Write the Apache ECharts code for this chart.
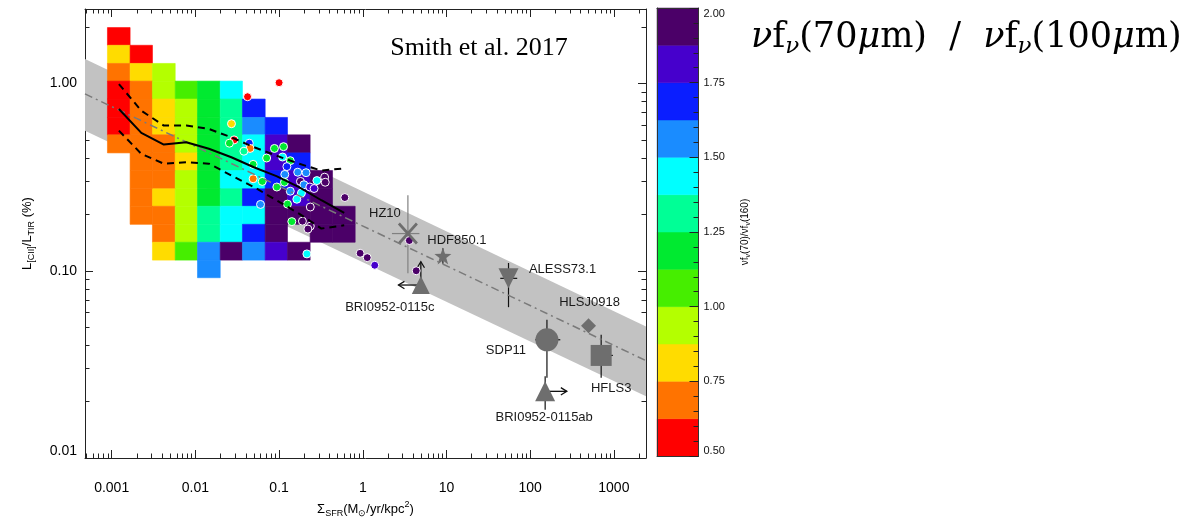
<!DOCTYPE html>
<html>
<head>
<meta charset="utf-8">
<script src="https://cdn.jsdelivr.net/npm/echarts@6/dist/echarts.min.js"></script>
<style>
  html, body { margin: 0; padding: 0; background: #fff; }
  #main { width: 1201px; height: 520px; }
</style>
</head>
<body>
<div id="main"></div>
<script>
// axis ranges: Sigma_SFR (Msun/yr/kpc2) and L[CII]/L_TIR (%)
const sfrRange = [0.00048, 2420]
const ratioRange = [0.01, 2.5]
const sfrTicks = [0.001, 0.01, 0.1, 1, 10, 100, 1000]
const sfrTickLabels = ['0.001', '0.01', '0.1', '1', '10', '100', '1000']
const ratioTicks = [0.01, 0.1, 1]
const ratioTickLabels = ['0.01', '0.10', '1.00']

// colour bar: nu f_nu(70) / nu f_nu(160)
const colorLevels = [0.5, 0.625, 0.75, 0.875, 1.0, 1.125, 1.25, 1.375, 1.5, 1.625, 1.75, 1.875, 2.0]
const levelColors = ['#ff0000', '#ff7300', '#ffdc00', '#b4ff00', '#46ee00', '#00ea30',
  '#00ff96', '#00ffff', '#1a8cff', '#0a1eff', '#4600cc', '#4b0068']

// 2d histogram of resolved regions (rows top -> bottom)
const sfrEdges = [0.00089, 0.00166, 0.00307, 0.00574, 0.0106, 0.0198, 0.0365, 0.0682, 0.126, 0.235, 0.435, 0.811]
const ratioEdges = [1.99, 1.60, 1.28, 1.03, 0.826, 0.659, 0.532, 0.426, 0.343, 0.274, 0.221, 0.177, 0.142, 0.114, 0.0918]
const N = null
const binColour = [
  [0.56, N, N, N, N, N, N, N, N, N, N],
  [0.81, 0.56, N, N, N, N, N, N, N, N, N],
  [0.69, 0.81, 0.94, N, N, N, N, N, N, N, N],
  [0.56, 0.69, 0.94, 1.06, 1.19, 1.44, N, N, N, N, N],
  [0.56, 0.69, 0.81, 0.94, 1.19, 1.31, 1.69, N, N, N, N],
  [0.56, 0.69, 0.81, 0.94, 1.19, 1.31, 1.56, 1.69, N, N, N],
  [0.69, 0.69, 0.69, 0.94, 1.19, 1.31, 1.44, 1.81, 1.94, N, N],
  [N, 0.69, 0.69, 0.81, 1.19, 1.31, 1.44, 1.81, 1.69, N, N],
  [N, 0.69, 0.69, 0.94, 1.19, 1.44, 1.44, 1.69, 1.81, 1.94, N],
  [N, 0.69, 0.81, 0.94, 1.19, 1.31, 1.69, 1.94, 1.81, 1.94, N],
  [N, 0.69, 0.69, 0.94, 1.31, 1.44, 1.44, 1.94, 1.94, 1.94, 1.94],
  [N, N, 0.69, 0.94, 1.31, 1.44, 1.69, 1.94, N, 1.94, 1.94],
  [N, N, 0.81, 1.06, 1.56, 1.94, 1.56, 1.81, 1.94, N, N],
  [N, N, N, N, 1.56, N, N, N, N, N, N]
]

// running median and 16/84 percentiles
const runSFR = [0.00122, 0.00226, 0.0042, 0.0078, 0.0145, 0.0269, 0.050, 0.093, 0.173, 0.32, 0.60]
const runMedian = [0.731, 0.545, 0.472, 0.486, 0.448, 0.404, 0.357, 0.320, 0.280, 0.238, 0.204]
const runUpper = [0.993, 0.716, 0.596, 0.596, 0.572, 0.516, 0.457, 0.412, 0.373, 0.343, 0.352]
const runLower = [0.560, 0.421, 0.373, 0.380, 0.373, 0.323, 0.280, 0.238, 0.202, 0.168, 0.175]

// Smith et al. 2017 relation and its scatter
const relSFR = [0.00048, 2420]
const relFit = [0.88, 0.0331]
const relHigh = [1.35, 0.0504]
const relLow = [0.56, 0.0214]

// individual regions
const galSFR = [0.10, 0.042, 0.027, 0.029, 0.0255, 0.044, 0.045, 0.038, 0.049, 0.071, 0.088, 0.113, 0.11, 0.136,
  0.124, 0.049, 0.063, 0.117, 0.116, 0.167, 0.21, 0.18, 0.198, 0.233, 0.283, 0.35, 0.356, 0.262, 0.094, 0.136,
  0.185, 0.163, 0.126, 0.060, 0.236, 0.61, 0.142, 0.19, 0.236, 0.221, 0.215, 0.93, 1.13, 1.39, 3.6, 4.35]
const galRatio = [1.01, 0.85, 0.61, 0.50, 0.48, 0.48, 0.45, 0.435, 0.37, 0.40, 0.45, 0.46, 0.405, 0.387,
  0.36, 0.31, 0.30, 0.327, 0.297, 0.336, 0.334, 0.30, 0.288, 0.28, 0.303, 0.316, 0.297, 0.275, 0.28, 0.266,
  0.26, 0.241, 0.227, 0.226, 0.219, 0.246, 0.183, 0.184, 0.173, 0.167, 0.123, 0.124, 0.1175, 0.107, 0.145, 0.100]
const galColour = [0.56, 0.56, 0.81, 0.56, 1.19, 1.69, 0.69, 1.31, 1.19, 1.19, 1.19, 1.19, 1.44, 1.19,
  1.69, 0.69, 1.19, 1.56, 1.19, 1.56, 1.56, 1.94, 1.56, 1.81, 1.44, 1.94, 1.94, 1.81, 1.19, 1.56,
  1.44, 1.44, 1.19, 1.56, 1.94, 1.94, 1.19, 1.94, 1.94, 1.94, 1.44, 1.94, 1.94, 1.81, 1.94, 1.94]

// high redshift sources
const hzNames = ['HZ10', 'HDF850.1', 'BRI0952-0115c', 'ALESS73.1', 'HLSJ0918', 'SDP11', 'HFLS3', 'BRI0952-0115ab']
const hzSFR = [3.46, 9.06, 4.94, 55.1, 498, 158.6, 705, 151]
const hzRatio = [0.158, 0.120, 0.0839, 0.0911, 0.0508, 0.0428, 0.0353, 0.0227]
const hzSFRLo = [2.23, N, N, 43.9, 446, 115, 546, N]
const hzSFRHi = [4.75, N, N, 70, 556, 229, 973, N]
const hzRatioLo = [0.0969, 0.109, N, 0.0639, 0.0483, 0.0268, 0.0268, 0.0181]
const hzRatioHi = [0.253, 0.132, N, 0.110, 0.0534, 0.0547, 0.0455, 0.0273]
// limits (arrows) : source index and arrow tip
const limSource = [2, 2, 7]
const limSFR = [4.94, 2.67, 274]
const limRatio = [0.1117, 0.0839, 0.0227]

const lg = Math.log10
const xMin = lg(sfrRange[0])
const xMax = lg(sfrRange[1])
const yMin = lg(ratioRange[0])
const yMax = lg(ratioRange[1])
const sans = 'Liberation Sans'

function colourOf (v) {
  for (let i = 0; i < levelColors.length; i++) {
    if (v < colorLevels[i + 1]) return levelColors[i]
  }
  return levelColors[levelColors.length - 1]
}

function minorValues (lo, hi) {
  const out = []
  for (let d = Math.floor(lo) - 1; d <= Math.ceil(hi); d++) {
    for (let k = 2; k <= 9; k++) {
      const v = d + lg(k)
      if (v > lo && v < hi) out.push(v)
    }
  }
  return out
}

function labelFor (ticks, labels, v) {
  const i = ticks.findIndex(t => Math.abs(lg(t) - v) < 1e-6)
  return i < 0 ? '' : labels[i]
}

// one axis of the frame; major and minor ticks are two overlapping axes
function frameAxis (pos, lo, hi, ticks, len, showLine, extra) {
  return Object.assign({
    type: 'value',
    gridIndex: 0,
    position: pos,
    min: lo,
    max: hi,
    splitLine: { show: false },
    axisLine: { show: showLine, onZero: false, lineStyle: { color: '#222', width: 1 } },
    axisTick: { show: true, inside: true, length: len, customValues: ticks, lineStyle: { color: '#222', width: 1 } },
    axisLabel: { show: false }
  }, extra || {})
}

const xMajor = sfrTicks.map(lg)
const yMajor = ratioTicks.map(lg)
const xMinor = minorValues(xMin, xMax)
const yMinor = minorValues(yMin, yMax)

const asteriskPath = 'path://M0,2 L2,0 L20,20 L18,22 Z M18,0 L20,2 L2,22 L0,20 Z'
const starPath = 'path://M10,0 L12.35,6.76 L19.51,6.91 L13.8,11.24 L15.88,18.09 L10,14 L4.12,18.09 L6.2,11.24 L0.49,6.91 L7.65,6.76 Z'
const downTriangle = 'path://M0,0 L20,0 L10,20 Z'
const hzStyle = [
  { symbol: asteriskPath, size: [20, 22], offset: [-23, -20] },
  { symbol: starPath, size: 17, offset: [14, -16] },
  { symbol: 'triangle', size: 18, offset: [-31, 22] },
  { symbol: downTriangle, size: 20, offset: [54, -9] },
  { symbol: 'diamond', size: 15, offset: [1, -23] },
  { symbol: 'circle', size: 23, offset: [-41, 11] },
  { symbol: 'rect', size: 21, offset: [10, 33] },
  { symbol: 'triangle', size: 20, offset: [-1, 26] }
]
const errColour = ['#808080', '#222', '#222', '#111', '#111', '#111', '#111', '#111']

// series data
const cellData = []
binColour.forEach((row, r) => {
  row.forEach((v, c) => {
    if (v === null) return
    cellData.push([lg(sfrEdges[c]), lg(ratioEdges[r + 1]), v, lg(sfrEdges[c + 1]), lg(ratioEdges[r])])
  })
})
const bandData = []
for (let i = 0; i < relSFR.length - 1; i++) {
  bandData.push([lg(relSFR[i]), lg(relLow[i]), lg(relHigh[i]), lg(relSFR[i + 1]), lg(relLow[i + 1]), lg(relHigh[i + 1])])
}
const errData = []
hzNames.forEach((n, i) => {
  if (hzSFRLo[i] !== null) errData.push([lg(hzSFRLo[i]), lg(hzRatio[i]), lg(hzSFRHi[i]), lg(hzRatio[i]), i])
  if (hzRatioLo[i] !== null) errData.push([lg(hzSFR[i]), lg(hzRatioLo[i]), lg(hzSFR[i]), lg(hzRatioHi[i]), i])
})
const arrowData = limSource.map((k, j) => [lg(hzSFR[k]), lg(hzRatio[k]), lg(limSFR[j]), lg(limRatio[j])])
const colourBarData = levelColors.map((c, i) => [0, colorLevels[i], (colorLevels[i] + colorLevels[i + 1]) / 2, 1, colorLevels[i + 1]])

const chart = echarts.init(document.getElementById('main'), null, { renderer: 'canvas' })

chart.setOption({
  animation: false,
  backgroundColor: '#fff',
  grid: [
    { left: 85, top: 9, width: 561, height: 449, outerBoundsMode: 'none' },
    { left: 657, top: 8, width: 41.5, height: 448, outerBoundsMode: 'none' }
  ],
  xAxis: [
    frameAxis('bottom', xMin, xMax, xMajor, 8, true, {
      axisLabel: {
        show: true,
        customValues: xMajor,
        formatter: v => labelFor(sfrTicks, sfrTickLabels, v),
        margin: 23,
        color: '#000',
        fontSize: 14,
        fontFamily: sans
      },
      name: 'Σ{s|SFR}(M{s|⊙}/yr/kpc{p|2})',
      nameLocation: 'middle',
      nameGap: 42,
      nameTextStyle: {
        color: '#000',
        fontSize: 13,
        fontFamily: sans,
        lineHeight: 18,
        rich: {
          s: { fontSize: 9, fontFamily: sans, lineHeight: 9, verticalAlign: 'bottom', color: '#000' },
          p: { fontSize: 9, fontFamily: sans, lineHeight: 9, verticalAlign: 'top', color: '#000' }
        }
      }
    }),
    frameAxis('bottom', xMin, xMax, xMinor, 4.5, false),
    frameAxis('top', xMin, xMax, xMajor, 8, true),
    frameAxis('top', xMin, xMax, xMinor, 4.5, false),
    {
      type: 'value', gridIndex: 1, position: 'bottom', min: 0, max: 1, z: 3,
      splitLine: { show: false },
      axisLine: { show: true, onZero: false, lineStyle: { color: '#333' } },
      axisTick: { show: false },
      axisLabel: { show: false }
    },
    {
      type: 'value', gridIndex: 1, position: 'top', min: 0, max: 1, z: 3,
      splitLine: { show: false },
      axisLine: { show: true, onZero: false, lineStyle: { color: '#333' } },
      axisTick: { show: false },
      axisLabel: { show: false }
    }
  ],
  yAxis: [
    frameAxis('left', yMin, yMax, yMajor, 8, true, {
      axisLabel: {
        show: true,
        customValues: yMajor,
        formatter: v => labelFor(ratioTicks, ratioTickLabels, v),
        margin: 8,
        color: '#000',
        fontSize: 14,
        fontFamily: sans,
        verticalAlignMinLabel: 'bottom'
      },
      name: 'L{s|[CII]}/L{s|TIR} (%)',
      nameLocation: 'middle',
      nameGap: 49,
      nameRotate: 90,
      nameTextStyle: {
        color: '#000',
        fontSize: 13,
        fontFamily: sans,
        lineHeight: 18,
        rich: {
          s: { fontSize: 9, fontFamily: sans, lineHeight: 9, verticalAlign: 'bottom', color: '#000' }
        }
      }
    }),
    frameAxis('left', yMin, yMax, yMinor, 4.5, false),
    frameAxis('right', yMin, yMax, yMajor, 8, true),
    frameAxis('right', yMin, yMax, yMinor, 4.5, false),
    {
      type: 'value', gridIndex: 1, position: 'right', min: 0.5, max: 2.0, interval: 0.25, z: 3,
      splitLine: { show: false },
      axisLine: { show: true, onZero: false, lineStyle: { color: '#333' } },
      axisTick: { show: true, inside: true, length: 9, lineStyle: { color: '#222' } },
      minorTick: { show: true, splitNumber: 5, length: 5, lineStyle: { color: '#222' } },
      axisLabel: {
        show: true,
        margin: 5,
        color: '#111',
        fontSize: 11,
        fontFamily: sans,
        formatter: v => v.toFixed(2),
        verticalAlignMaxLabel: 'top',
        verticalAlignMinLabel: 'bottom'
      },
      name: 'νf{s|ν}(70)/νf{s|ν}(160)',
      nameLocation: 'middle',
      nameGap: 40,
      nameRotate: 90,
      nameTextStyle: {
        color: '#000',
        fontSize: 10,
        fontFamily: sans,
        lineHeight: 13,
        rich: {
          s: { fontSize: 7, fontFamily: sans, lineHeight: 7, verticalAlign: 'bottom', color: '#000' }
        }
      }
    },
    {
      type: 'value', gridIndex: 1, position: 'left', min: 0.5, max: 2.0, z: 3,
      splitLine: { show: false },
      axisLine: { show: true, onZero: false, lineStyle: { color: '#333' } },
      axisTick: { show: false },
      axisLabel: { show: false }
    }
  ],
  graphic: [
    {
      type: 'text',
      x: 479,
      y: 48,
      style: {
        text: 'Smith et al. 2017',
        fontSize: 26,
        fontFamily: 'Liberation Serif',
        fill: '#000',
        align: 'center',
        verticalAlign: 'middle'
      }
    },
    {
      type: 'text',
      x: 751,
      y: 38,
      style: {
        text: '{i|ν}f{s|ν}(70{i|μ}m)  /  {i|ν}f{s|ν}(100{i|μ}m)',
        fontSize: 35,
        fontFamily: 'DejaVu Serif',
        lineHeight: 42,
        fill: '#000',
        align: 'left',
        verticalAlign: 'middle',
        rich: {
          i: { fontSize: 35, fontFamily: 'DejaVu Serif', fontStyle: 'italic', lineHeight: 42 },
          s: { fontSize: 23, fontFamily: 'DejaVu Serif', fontStyle: 'italic', lineHeight: 19, verticalAlign: 'bottom' }
        }
      }
    }
  ],
  series: [
    {
      // scatter band of the relation
      type: 'custom',
      xAxisIndex: 0,
      yAxisIndex: 0,
      clip: true,
      silent: true,
      encode: { x: [0, 3], y: [1, 2] },
      data: bandData,
      renderItem (params, api) {
        const a = api.coord([api.value(0), api.value(1)])
        const b = api.coord([api.value(0), api.value(2)])
        const c = api.coord([api.value(3), api.value(5)])
        const d = api.coord([api.value(3), api.value(4)])
        return { type: 'polygon', shape: { points: [a, b, c, d] }, style: { fill: '#c2c2c2' } }
      }
    },
    {
      // 2d histogram
      type: 'custom',
      xAxisIndex: 0,
      yAxisIndex: 0,
      clip: true,
      silent: true,
      encode: { x: [0, 3], y: [1, 4] },
      data: cellData,
      renderItem (params, api) {
        const p0 = api.coord([api.value(0), api.value(1)])
        const p1 = api.coord([api.value(3), api.value(4)])
        const col = colourOf(api.value(2))
        return {
          type: 'rect',
          shape: { x: p0[0], y: p1[1], width: p1[0] - p0[0], height: p0[1] - p1[1] },
          style: { fill: col, stroke: col, lineWidth: 0.6 }
        }
      }
    },
    {
      type: 'line',
      xAxisIndex: 0,
      yAxisIndex: 0,
      silent: true,
      symbol: 'none',
      data: relSFR.map((x, i) => [lg(x), lg(relFit[i])]),
      lineStyle: { color: '#7a7a7a', width: 1.5, type: [8, 4, 2, 4] }
    },
    {
      type: 'line',
      xAxisIndex: 0,
      yAxisIndex: 0,
      silent: true,
      symbol: 'none',
      data: runSFR.map((x, i) => [lg(x), lg(runMedian[i])]),
      lineStyle: { color: '#000', width: 2 }
    },
    {
      type: 'line',
      xAxisIndex: 0,
      yAxisIndex: 0,
      silent: true,
      symbol: 'none',
      data: runSFR.map((x, i) => [lg(x), lg(runUpper[i])]),
      lineStyle: { color: '#000', width: 2, type: [7, 5] }
    },
    {
      type: 'line',
      xAxisIndex: 0,
      yAxisIndex: 0,
      silent: true,
      symbol: 'none',
      data: runSFR.map((x, i) => [lg(x), lg(runLower[i])]),
      lineStyle: { color: '#000', width: 2, type: [7, 5] }
    },
    {
      type: 'scatter',
      xAxisIndex: 0,
      yAxisIndex: 0,
      silent: true,
      symbolSize: 8,
      data: galSFR.map((x, i) => [lg(x), lg(galRatio[i]), galColour[i]]),
      itemStyle: {
        color: p => colourOf(p.value[2]),
        borderColor: '#fff',
        borderWidth: 1,
        opacity: 1
      }
    },
    {
      type: 'scatter',
      xAxisIndex: 0,
      yAxisIndex: 0,
      silent: true,
      data: hzNames.map((n, i) => ({
        name: n,
        value: [lg(hzSFR[i]), lg(hzRatio[i])],
        symbol: hzStyle[i].symbol,
        symbolSize: hzStyle[i].size,
        label: { offset: hzStyle[i].offset }
      })),
      itemStyle: { color: '#6e6e6e', opacity: 1 },
      label: {
        show: true,
        position: 'inside',
        formatter: '{b}',
        color: '#1a1a1a',
        fontSize: 13,
        fontFamily: sans
      }
    },
    {
      // error bars
      type: 'custom',
      xAxisIndex: 0,
      yAxisIndex: 0,
      silent: true,
      encode: { x: [0, 2], y: [1, 3] },
      data: errData,
      renderItem (params, api) {
        const a = api.coord([api.value(0), api.value(1)])
        const b = api.coord([api.value(2), api.value(3)])
        return {
          type: 'line',
          shape: { x1: a[0], y1: a[1], x2: b[0], y2: b[1] },
          style: { stroke: errColour[api.value(4)], lineWidth: 1.2 }
        }
      }
    },
    {
      // limits
      type: 'custom',
      xAxisIndex: 0,
      yAxisIndex: 0,
      silent: true,
      encode: { x: [0, 2], y: [1, 3] },
      data: arrowData,
      renderItem (params, api) {
        const a = api.coord([api.value(0), api.value(1)])
        const b = api.coord([api.value(2), api.value(3)])
        const ang = Math.atan2(b[1] - a[1], b[0] - a[0])
        const L = 7
        const w = 0.55
        const h1 = [b[0] - L * Math.cos(ang - w), b[1] - L * Math.sin(ang - w)]
        const h2 = [b[0] - L * Math.cos(ang + w), b[1] - L * Math.sin(ang + w)]
        return {
          type: 'group',
          children: [
            { type: 'line', shape: { x1: a[0], y1: a[1], x2: b[0], y2: b[1] }, style: { stroke: '#111', lineWidth: 1.3 } },
            { type: 'polyline', shape: { points: [h1, b, h2] }, style: { stroke: '#111', lineWidth: 1.3, fill: null } }
          ]
        }
      }
    },
    {
      // colour bar
      type: 'custom',
      xAxisIndex: 4,
      yAxisIndex: 4,
      silent: true,
      encode: { x: [0, 3], y: [1, 4] },
      data: colourBarData,
      renderItem (params, api) {
        const p0 = api.coord([api.value(0), api.value(1)])
        const p1 = api.coord([api.value(3), api.value(4)])
        const col = colourOf(api.value(2))
        return {
          type: 'rect',
          shape: { x: p0[0], y: p1[1], width: p1[0] - p0[0], height: p0[1] - p1[1] },
          style: { fill: col, stroke: col, lineWidth: 0.5 }
        }
      }
    }
  ]
})
</script>
</body>
</html>
